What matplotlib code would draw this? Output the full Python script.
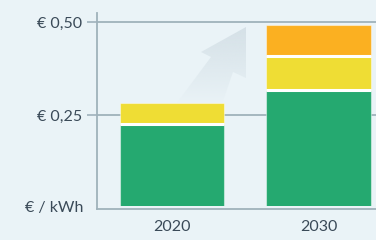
import matplotlib
matplotlib.use("Agg")
import matplotlib.pyplot as plt
import matplotlib.transforms as mtrans
import numpy as np
from matplotlib.patches import Polygon

years = ["2020", "2030"]
green = [0.226, 0.317]
yellow = [0.058, 0.093]
orange = [0.0, 0.083]
ytick_vals = [0.25, 0.50]
ytick_labels = ["€ 0,25", "€ 0,50"]
unit_label = "€ / kWh"

BG = "#eaf3f7"
AX = "#9fb2bb"
TXT = "#3a4a58"
C_GREEN = "#25a970"
C_YELLOW = "#efdd34"
C_ORANGE = "#fbb021"
FS = 11.5

plt.rcParams['font.family'] = ['Lato', 'DejaVu Sans']

W, H = 376, 240
fig = plt.figure(figsize=(W / 100, H / 100), dpi=100, facecolor=BG)

# decorative arrow in pixel space (behind main axes)
bg_ax = fig.add_axes([0, 0, 1, 1], zorder=0)
bg_ax.set_xlim(0, W)
bg_ax.set_ylim(H, 0)
bg_ax.axis("off")
pts = [(246, 27), (246, 78), (233, 72), (222, 104), (176, 104), (211, 57), (201, 52)]
poly = Polygon(pts, closed=True, facecolor="none", edgecolor="none")
bg_ax.add_patch(poly)
grad = np.zeros((100, 2, 4))
grad[..., :3] = matplotlib.colors.to_rgb("#d5e1e7")
grad[..., 3] = (np.linspace(1.0, 0.0, 100) ** 0.9)[:, None]
im = bg_ax.imshow(grad, extent=(170, 250, 104, 25), aspect="auto", interpolation="bilinear")
im.set_clip_path(poly)

ax = fig.add_axes([97 / W, (H - 209) / H, 1 - 97 / W, (209 - 13) / H], zorder=1)
ax.patch.set_alpha(0)
x = np.arange(len(years))
bw = 0.715
edge = dict(edgecolor=(1, 1, 1, 0.45), linewidth=0.8, zorder=3)
ax.bar(x, green, bw, color=C_GREEN, **edge)
b2 = np.array(green)
ax.bar(x, yellow, bw, bottom=b2, color=C_YELLOW, **edge)
b3 = b2 + np.array(yellow)
ax.bar(x[1:], orange[1:], bw, bottom=b3[1:], color=C_ORANGE, **edge)
# white separators between stacked segments
ax.hlines(b2, x - bw / 2, x + bw / 2, color="white", lw=2.2, zorder=4)
ax.hlines(b3[1:], x[1:] - bw / 2, x[1:] + bw / 2, color="white", lw=2.2, zorder=4)
# small background gap between bars and baseline
ax.axhspan(0, 0.008, color=BG, zorder=4, lw=0)

ax.set_xlim(-0.512, 1.392)
ax.set_ylim(0, 0.524)
ax.set_yticks(ytick_vals)
ax.set_yticklabels(ytick_labels)
ax.set_xticks(x)
ax.set_xticklabels(years)
ax.tick_params(axis="y", length=7, width=1.2, color=AX, pad=3.5, labelsize=FS, labelcolor=TXT)
ax.tick_params(axis="x", length=0, pad=8, labelsize=FS, labelcolor=TXT)
for v in ytick_vals:
    ax.axhline(v, color=AX, lw=1.3, zorder=1)
for s in ["top", "right"]:
    ax.spines[s].set_visible(False)
for s in ["left", "bottom"]:
    ax.spines[s].set_color(AX)
    ax.spines[s].set_linewidth(1.3)
    ax.spines[s].set_zorder(5)
trans = mtrans.blended_transform_factory(ax.transAxes, ax.transData)
ax.text(-14 / 279, 0.004, unit_label, transform=trans, ha="right", va="center",
        fontsize=FS, color=TXT)

fig.savefig("out.png", dpi=100, facecolor=BG)
